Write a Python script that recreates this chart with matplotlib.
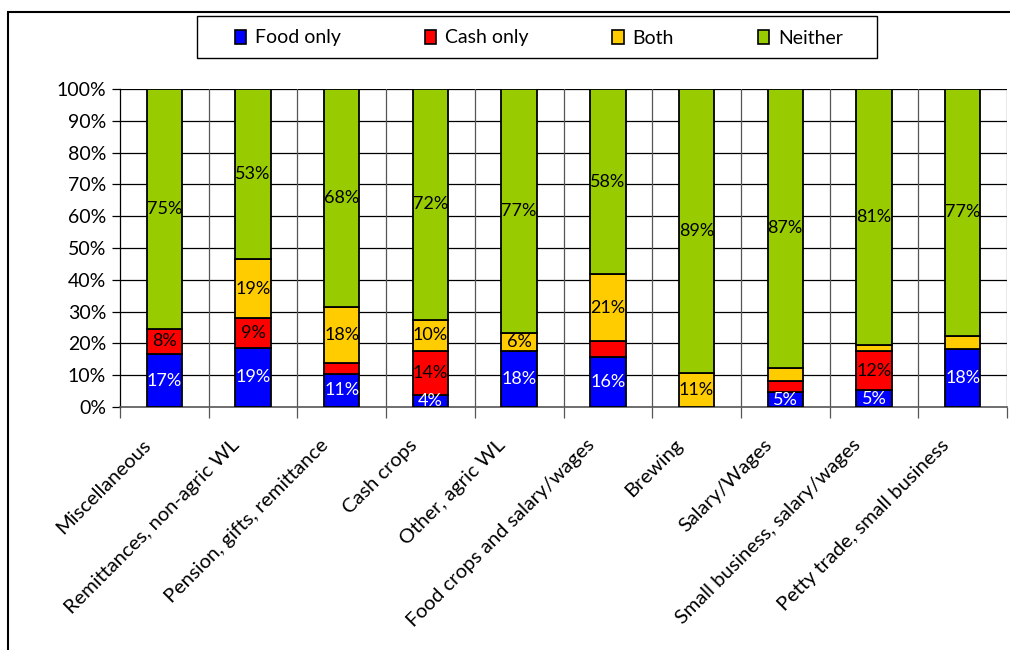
import matplotlib.pyplot as plt
import numpy as np
from matplotlib.patches import Rectangle

plt.rcParams["font.family"] = ["Lato", "DejaVu Sans"]

categories = [
    "Miscellaneous",
    "Remittances, non-agric WL",
    "Pension, gifts, remittance",
    "Cash crops",
    "Other, agric WL",
    "Food crops and salary/wages",
    "Brewing",
    "Salary/Wages",
    "Small business, salary/wages",
    "Petty trade, small business",
]

series_names = ["Food only", "Cash only", "Both", "Neither"]
series_colors = ["#0000ff", "#ff0000", "#ffcc00", "#99cc00"]
text_colors = ["white", "black", "black", "black"]

food_only = [16.6, 18.6, 10.5, 3.8, 17.5, 15.6, 0.0, 4.6, 5.3, 18.1]
cash_only = [8.0, 9.4, 3.3, 13.7, 0.0, 5.2, 0.0, 3.6, 12.3, 0.0]
both = [0.0, 18.5, 17.7, 10.0, 5.8, 20.9, 10.7, 4.2, 1.9, 4.3]
neither = [75.4, 53.5, 68.5, 72.5, 76.7, 58.3, 89.3, 87.6, 80.5, 77.6]

food_labels = ["17%", "19%", "11%", "4%", "18%", "16%", "", "5%", "5%", "18%"]
cash_labels = ["8%", "9%", "", "14%", "", "", "", "", "12%", ""]
both_labels = ["", "19%", "18%", "10%", "6%", "21%", "11%", "", "", ""]
neither_labels = ["75%", "53%", "68%", "72%", "77%", "58%", "89%", "87%", "81%", "77%"]

series = [food_only, cash_only, both, neither]
labels = [food_labels, cash_labels, both_labels, neither_labels]

W, H = 1010, 650
fig = plt.figure(figsize=(W / 100, H / 100), dpi=100)
ax = fig.add_axes([120 / W, 1 - 407 / H, 887 / W, 318 / H])

x = np.arange(len(categories))
bottom = np.zeros(len(categories))
handles = []
for vals, name, color, tcol, labs in zip(series, series_names, series_colors, text_colors, labels):
    vals = np.array(vals)
    bars = ax.bar(x, vals, width=0.4, bottom=bottom, color=color, edgecolor="black",
                  linewidth=1.3, label=name, zorder=3)
    handles.append(bars)
    for xi, b, v, lab in zip(x, bottom, vals, labs):
        if lab:
            ax.text(xi, b + v / 2, lab, ha="center", va="center", color=tcol,
                    fontsize=13, zorder=4)
    bottom += vals

ax.set_xlim(-0.5, len(categories) - 0.5)
ax.set_ylim(0, 100)
ax.set_yticks(np.arange(0, 101, 10))
ax.set_yticklabels([f"{v}%" for v in range(0, 101, 10)], fontsize=14)

# horizontal grid
for v in range(10, 101, 10):
    ax.axhline(v, color="black", linewidth=0.9, zorder=1)
# vertical grid at category boundaries
for b in np.arange(0.5, len(categories), 1.0):
    ax.axvline(b, color="#555555", linewidth=0.9, zorder=1)

ax.set_xticks(np.arange(-0.5, len(categories), 1.0))
ax.set_xticklabels([])
# category labels anchored a little left of each bar, like the Excel original
ax.set_xticks(x - 0.25, minor=True)
ax.set_xticklabels(categories, minor=True, rotation=45, ha="right",
                   rotation_mode="anchor", fontsize=14.5)
ax.tick_params(axis="x", which="minor", length=0, pad=21)
ax.tick_params(axis="x", which="major", length=8, color="#555555", width=0.9)
ax.tick_params(axis="y", length=6, width=0.9, pad=4)

for side in ["top", "right"]:
    ax.spines[side].set_visible(False)
ax.spines["left"].set_linewidth(0.9)
ax.spines["bottom"].set_color("#555555")
ax.spines["bottom"].set_linewidth(1.2)

# legend box drawn by hand, entries placed without frame inside it
fig.patches.append(Rectangle((197 / W, 1 - 58 / H), 680 / W, 42 / H,
                             transform=fig.transFigure, fill=False,
                             edgecolor="black", linewidth=1.0))
leg = fig.legend(handles=handles, labels=series_names, loc="center left",
                 bbox_to_anchor=(225 / W, 1 - 38 / H), ncol=4, fontsize=14,
                 frameon=False, handlelength=0.6, handleheight=0.75,
                 columnspacing=4.3, borderpad=0, handletextpad=0.45)
for h in leg.legend_handles:
    h.set_linewidth(1.2)

fig.patches.append(Rectangle((8 / W, -0.1), 1.2, 1 - 12 / H + 0.1,
                             transform=fig.transFigure, fill=False,
                             edgecolor="black", linewidth=1.5))

fig.savefig("out.png", dpi=100)
